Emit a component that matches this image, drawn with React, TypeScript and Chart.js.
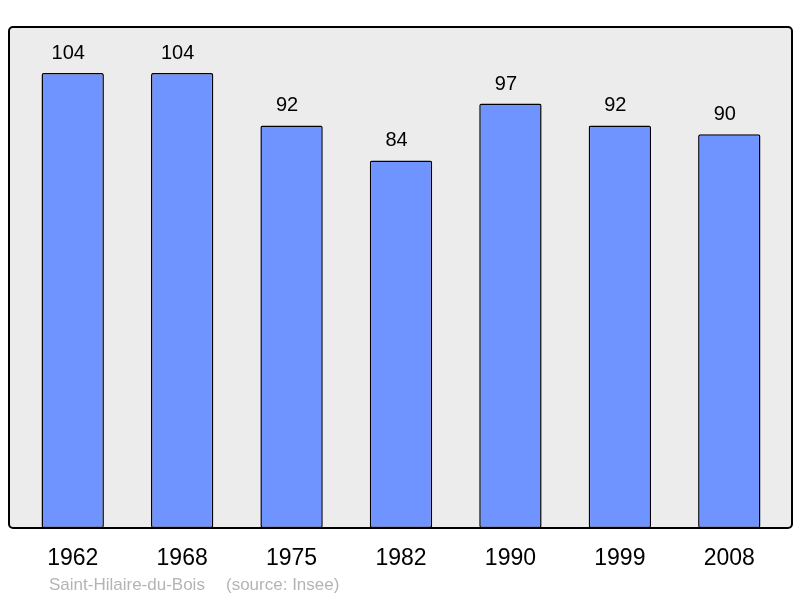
import { useEffect, useRef } from 'react';
import { Chart, registerables } from 'chart.js';

Chart.register(...registerables);

const years = ['1962', '1968', '1975', '1982', '1990', '1999', '2008'];
const population = [104, 104, 92, 84, 97, 92, 90];
const placeName = 'Saint-Hilaire-du-Bois';
const sourceText = '(source: Insee)';

const frame = {
    id: 'frame',
    beforeDatasetsDraw(chart: any) {
        const ctx = chart.ctx;
        const x0 = 9, y0 = 27, x1 = 792, y1 = 528, r = 4;
        ctx.save();
        ctx.beginPath();
        ctx.roundRect(x0, y0, x1 - x0, y1 - y0, r);
        ctx.fillStyle = '#ececec';
        ctx.fill();
        ctx.restore();
    },
    afterDatasetsDraw(chart: any) {
        const ctx = chart.ctx;
        const x0 = 9, y0 = 27, x1 = 792, y1 = 528, r = 4;
        const xs = chart.scales.x;
        const meta = chart.getDatasetMeta(0);
        ctx.save();
        ctx.beginPath();
        ctx.roundRect(x0, y0, x1 - x0, y1 - y0, r);
        ctx.lineWidth = 2;
        ctx.strokeStyle = '#000';
        ctx.stroke();

        ctx.fillStyle = '#000';
        ctx.textAlign = 'center';
        ctx.textBaseline = 'alphabetic';
        ctx.font = '20px "Liberation Sans", Arial, sans-serif';
        meta.data.forEach((bar: any, i: number) => {
            ctx.fillText(String(population[i]), bar.x - 4.5, bar.y - 14);
        });

        ctx.font = '23px "Liberation Sans", Arial, sans-serif';
        years.forEach((y, i) => {
            ctx.fillText(y, xs.getPixelForValue(i), 565);
        });

        ctx.fillStyle = '#b4b4b4';
        ctx.textAlign = 'left';
        ctx.font = '17px "Liberation Sans", Arial, sans-serif';
        ctx.fillText(placeName, 49, 590);
        ctx.fillText(sourceText, 226, 590);
        ctx.restore();
    },
};

const App = () => {
    const chartRef = useRef<HTMLCanvasElement | null>(null);

    useEffect(() => {
        document.body.style.margin = '0';
        const ctx = chartRef.current?.getContext('2d');
        if (!ctx) return;

        const chart = new Chart(ctx, {
            type: 'bar',
            data: {
                labels: years,
                datasets: [{
                    data: population,
                    backgroundColor: '#7094ff',
                    borderColor: '#000',
                    borderWidth: 1.5,
                    borderRadius: 2,
                    borderSkipped: false,
                    barPercentage: 0.57,
                    categoryPercentage: 1,
                }],
            },
            options: {
                animation: false,
                responsive: false,
                maintainAspectRatio: false,
                layout: { padding: { left: 18, right: 16, top: 27, bottom: 70 } },
                plugins: {
                    legend: { display: false },
                    tooltip: { enabled: false },
                    title: { display: false },
                },
                scales: {
                    x: { display: false },
                    y: { display: false, min: 0, max: 114.5 },
                },
            },
            plugins: [frame],
        });

        return () => {
            chart.destroy();
        };
    }, []);

    return <canvas ref={chartRef} width="800" height="598" style={{ display: 'block' }}></canvas>;
};

export default App;
